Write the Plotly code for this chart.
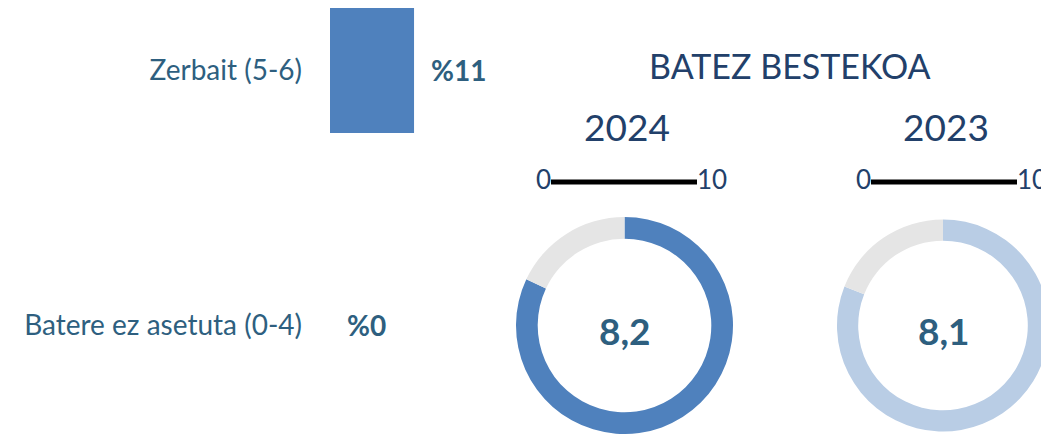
import plotly.graph_objects as go

# ---- data ----
categories = ["Batere ez asetuta (0-4)", "Zerbait (5-6)"]
shares = [0, 11]                      # percent
years = ["2024", "2023"]
averages = [8.2, 8.1]                 # 0-10 scale
scale_ticks = [0, 10]
title_text = "BATEZ BESTEKOA"

OFF = 8                               # page body margin
W, H = 1049 - OFF, 434 - OFF
BAR = "#4F81BD"
LIGHT = "#B9CDE5"
GREY = "#E5E5E5"
TXT = "#2E5F7F"
NAVY = "#22406A"
FONT = "Lato"

def px_x(p):
    return min(max((p - OFF) / W, 0), 1)

def px_y(p):
    return min(max(1 - (p - OFF) / H, 0), 1)

fig = go.Figure()

# ---- horizontal bar chart ----
fig.add_trace(go.Bar(
    y=categories, x=shares, orientation="h",
    marker=dict(color=BAR, line=dict(width=0)),
    width=0.49, hoverinfo="skip", xaxis="x", yaxis="y",
))
for c, v in zip(categories, shares):
    fig.add_annotation(
        x=v, y=c, xref="x", yref="y", text="%" + f"{v:d}",
        showarrow=False, xanchor="left", yanchor="middle", xshift=15, yshift=1,
        font=dict(family=FONT, size=28, color=TXT, weight="bold"),
    )

# ---- donuts ----
donut_dom = [
    dict(x=[px_x(516), px_x(733)], y=[px_y(434), px_y(217)]),
    dict(x=[px_x(837), px_x(1049)], y=[px_y(431.5), px_y(219.5)]),
]
colors = [BAR, LIGHT]
centers_x = [625, 944]
title_x = [627, 946]
for i, (yr, v) in enumerate(zip(years, averages)):
    fig.add_trace(go.Pie(
        values=[v, scale_ticks[1] - v], labels=["a", "b"],
        marker=dict(colors=[colors[i], GREY], line=dict(width=0)),
        hole=0.8, sort=False, direction="clockwise", rotation=0,
        textinfo="none", hoverinfo="skip", showlegend=False,
        domain=donut_dom[i],
    ))
    fig.add_annotation(
        x=px_x(centers_x[i]), y=px_y(330), xref="paper", yref="paper",
        xanchor="center", yanchor="middle",
        text=f"{v:.1f}".replace(".", ","), showarrow=False,
        font=dict(family=FONT, size=37, color=TXT, weight="bold"),
    )
    fig.add_annotation(
        x=px_x(title_x[i]), y=px_y(127), xref="paper", yref="paper",
        xanchor="center", yanchor="middle",
        text=yr, showarrow=False,
        font=dict(family=FONT, size=37, color=NAVY),
    )

# ---- 0-10 scale lines ----
scale_x = [[px_x(551), px_x(697)], [px_x(871), px_x(1017)]]
for i in range(2):
    fig.add_trace(go.Scatter(
        x=scale_ticks, y=[0, 0], mode="lines+text",
        text=[str(t) for t in scale_ticks],
        textposition=["middle left", "middle right"],
        textfont=dict(family=FONT, size=26, color=NAVY),
        line=dict(color="black", width=5),
        hoverinfo="skip", showlegend=False,
        xaxis=f"x{i + 2}", yaxis=f"y{i + 2}",
        cliponaxis=False,
    ))

fig.add_annotation(
    x=px_x(790), y=px_y(66), xref="paper", yref="paper",
    xanchor="center", yanchor="middle",
    text=title_text, showarrow=False,
    font=dict(family=FONT, size=34, color=NAVY),
)

hidden = dict(visible=False, showgrid=False, zeroline=False, fixedrange=True)
top_val = 1 + (70.5 - OFF) / 255
bot_val = -((H + OFF) - 325.5) / 255
fig.update_layout(
    width=W, height=H,
    margin=dict(l=0, r=0, t=0, b=0),
    paper_bgcolor="white", plot_bgcolor="rgba(0,0,0,0)",
    showlegend=False,
    font=dict(family=FONT, color=TXT),
    xaxis=dict(domain=[px_x(330), px_x(521)], range=[0, 25], **hidden),
    yaxis=dict(domain=[0, 1], range=[bot_val, top_val], type="category",
               showgrid=False, zeroline=False, showline=False,
               ticks="", ticklabelstandoff=27,
               tickfont=dict(family=FONT, size=28, color=TXT)),
    xaxis2=dict(domain=scale_x[0], range=[0, 10], anchor="y2", **hidden),
    yaxis2=dict(domain=[px_y(197), px_y(167)], range=[-1, 1], anchor="x2", **hidden),
    xaxis3=dict(domain=scale_x[1], range=[0, 10], anchor="y3", **hidden),
    yaxis3=dict(domain=[px_y(197), px_y(167)], range=[-1, 1], anchor="x3", **hidden),
)

fig.write_html("out.html")
